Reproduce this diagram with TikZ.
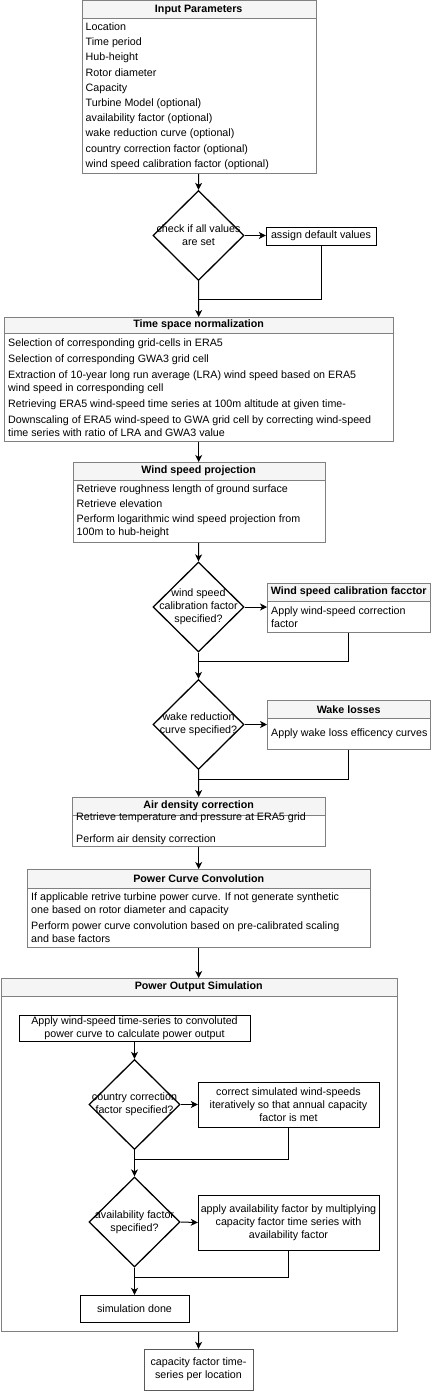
\documentclass[tikz,border=0pt]{standalone}
\usepackage{fontspec}
\setmainfont{Liberation Sans}
\usetikzlibrary{shapes.geometric, arrows.meta}
\definecolor{laneline}{RGB}{128,128,128}
\definecolor{lanefill}{RGB}{245,245,245}
\newcommand{\flowfont}{\fontsize{10.7}{13}\selectfont}
\tikzset{
    lanehead/.style={draw=laneline, fill=lanefill, anchor=north west, minimum height=18, inner sep=0, font=\flowfont\bfseries},
    lanebody/.style={draw=laneline, anchor=north west, inner sep=0},
    items/.style={anchor=west, align=left, inner xsep=4, inner ysep=0, font=\flowfont},
    stepbox/.style={draw=black, align=center, inner sep=0, font=\flowfont},
    decision/.style={draw=black, diamond, line width=1.3, minimum width=91, minimum height=90, inner sep=0},
    decisiontext/.style={align=center, inner sep=0, font=\flowfont},
    flow/.style={-{Stealth[length=7pt, width=7pt, inset=2pt]}, line width=1},
    joinline/.style={line width=1}
}

\begin{document}
\begin{tikzpicture}[x=1pt, y=-1pt]
    \useasboundingbox (0,0) rectangle (440,1391);

    % Eingaben
    \node[lanehead, minimum width=234, minimum height=17.5] (inHead) at (81.5,0.5) {Input Parameters};
    \node[lanebody, minimum width=234, minimum height=155] (inBody) at (inHead.south west) {};
    \node[items, font=\fontsize{10.7}{15.2}\selectfont] (inText) at (inBody.west) {Location\\Time period\\Hub-height\\Rotor diameter\\Capacity\\Turbine Model (optional)\\availability factor (optional)\\wake reduction curve (optional)\\country correction factor (optional)\\wind speed calibration factor (optional)};

    % Pruefung der Werte
    \node[decision] (chk) at (198.5,235.5) {};
    \node[decisiontext] (chkText) at (chk) {check if all values\\are set};
    \node[stepbox, minimum width=110, minimum height=18] (dflt) at (321,236) {assign default values};
    \coordinate (chkJoin) at (198.5,299);

    % Normalisierung
    \node[lanehead, minimum width=389, minimum height=16] (tsnHead) at (4,317) {Time space normalization};
    \node[lanebody, minimum width=389, minimum height=108] (tsnBody) at (tsnHead.south west) {};
    \node[items] (tsnText) at (tsnBody.west) {Selection of corresponding grid-cells in ERA5\\[3pt]Selection of corresponding GWA3 grid cell\\[3pt]Extraction of 10-year long run average (LRA) wind speed based on ERA5\\wind speed in corresponding cell\\[3pt]Retrieving ERA5 wind-speed time series at 100m altitude at given time-\\[3pt]Downscaling of ERA5 wind-speed to GWA grid cell by correcting wind-speed\\time series with ratio of LRA and GWA3 value};

    % Hoehenprojektion
    \node[lanehead, minimum width=252] (wspHead) at (72.5,462) {Wind speed projection};
    \node[lanebody, minimum width=252, minimum height=62] (wspBody) at (wspHead.south west) {};
    \node[items] (wspText) at (wspBody.west) {Retrieve roughness length of ground surface\\[2pt]Retrieve elevation\\[2pt]Perform logarithmic wind speed projection from\\100m to hub-height};

    % Kalibrierung
    \node[decision] (cal) at (198.5,607) {};
    \node[decisiontext] (calText) at (cal) {wind speed\\calibration factor\\specified?};
    \node[lanehead, minimum width=163] (wscHead) at (267,583) {Wind speed calibration facctor};
    \node[lanebody, minimum width=163, minimum height=31] (wscBody) at (wscHead.south west) {};
    \node[items] (wscText) at (wscBody.west) {Apply wind-speed correction\\factor};
    \coordinate (calJoin) at (198.5,661);

    % Nachlaufverluste
    \node[decision] (wake) at (198.5,724.5) {};
    \node[decisiontext] (wakeText) at (wake) {wake reduction\\curve specified?};
    \node[lanehead, minimum width=163] (wklHead) at (267,700) {Wake losses};
    \node[lanebody, minimum width=163, minimum height=31] (wklBody) at (wklHead.south west) {};
    \node[items] (wklText) at (wklBody.west) {Apply wake loss efficency curves};
    \coordinate (wakeJoin) at (198.5,779);

    % Luftdichte
    \node[lanehead, minimum width=253] (adcHead) at (72,797) {Air density correction};
    \node[lanebody, minimum width=253, minimum height=31] (adcBody) at (adcHead.south west) {};
    \node[items] (adcText) at ([yshift=2.5]adcBody.west) {Retrieve temperature and pressure at ERA5 grid\\[9pt]Perform air density correction};

    % Leistungskurve
    \node[lanehead, minimum width=343, minimum height=19] (pccHead) at (27,869) {Power Curve Convolution};
    \node[lanebody, minimum width=343, minimum height=59] (pccBody) at (pccHead.south west) {};
    \node[items] (pccText) at (pccBody.west) {If applicable retrive turbine power curve. If not generate synthetic\\one based on rotor diameter and capacity\\[3pt]Perform power curve convolution based on pre-calibrated scaling\\and base factors};

    % Simulation
    \node[lanehead, minimum width=396] (posHead) at (0.5,978) {Power Output Simulation};
    \node[lanebody, minimum width=396, minimum height=335] (posBody) at (posHead.south west) {};
    \node[stepbox, minimum width=231, minimum height=26] (conv) at (134.5,1028) {Apply wind-speed time-series to convoluted\\power curve to calculate power output};
    \node[decision] (cty) at (134.5,1104.5) {};
    \node[decisiontext] (ctyText) at (cty) {country correction\\factor specified?};
    \node[stepbox, minimum width=181, minimum height=45] (corr) at (288.5,1104.5) {correct simulated wind-speeds\\iteratively so that annual capacity\\factor is met};
    \coordinate (ctyJoin) at (134.5,1159);
    \node[decision] (avl) at (134.5,1222) {};
    \node[decisiontext] (avlText) at (avl) {availability factor\\specified?};
    \node[stepbox, minimum width=181, minimum height=55] (avlApply) at (288.5,1222.5) {apply availability factor by multiplying\\capacity factor time series with\\availability factor};
    \coordinate (avlJoin) at (134.5,1277);
    \node[stepbox, minimum width=109, minimum height=27] (done) at (134.5,1308.5) {simulation done};
    \node[stepbox, draw=laneline!70!black, minimum width=109, minimum height=41] (cap) at (198.5,1369.5) {capacity factor time-\\series per location};

    % Verbindungen
    \draw[flow] (inBody.south) -- (chk.north);
    \draw[flow] (chk.east) -- (chk.east -| dflt.west);
    \draw[joinline] (dflt.south) |- (chkJoin);
    \draw[flow] (chk.south) -- (tsnHead.north);
    \draw[flow] (tsnBody.south) -- (wspHead.north);
    \draw[flow] (wspBody.south) -- (cal.north);
    \draw[flow] (cal.east) -- (cal.east -| wscBody.west);
    \draw[joinline] (wscBody.south) |- (calJoin);
    \draw[flow] (cal.south) -- (wake.north);
    \draw[flow] (wake.east) -- (wake.east -| wklBody.west);
    \draw[joinline] (wklBody.south) |- (wakeJoin);
    \draw[flow] (wake.south) -- (adcHead.north);
    \draw[flow] (adcBody.south) -- (pccHead.north);
    \draw[flow] (pccBody.south) -- (posHead.north);
    \draw[flow] (conv.south) -- (cty.north);
    \draw[flow] (cty.east) -- (corr.west);
    \draw[joinline] (corr.south) |- (ctyJoin);
    \draw[flow] (cty.south) -- (avl.north);
    \draw[flow] (avl.east) -- (avlApply.west);
    \draw[joinline] (avlApply.south) |- (avlJoin);
    \draw[flow] (avl.south) -- (done.north);
    \draw[flow] (posBody.south) -- (cap.north);
\end{tikzpicture}
\end{document}
